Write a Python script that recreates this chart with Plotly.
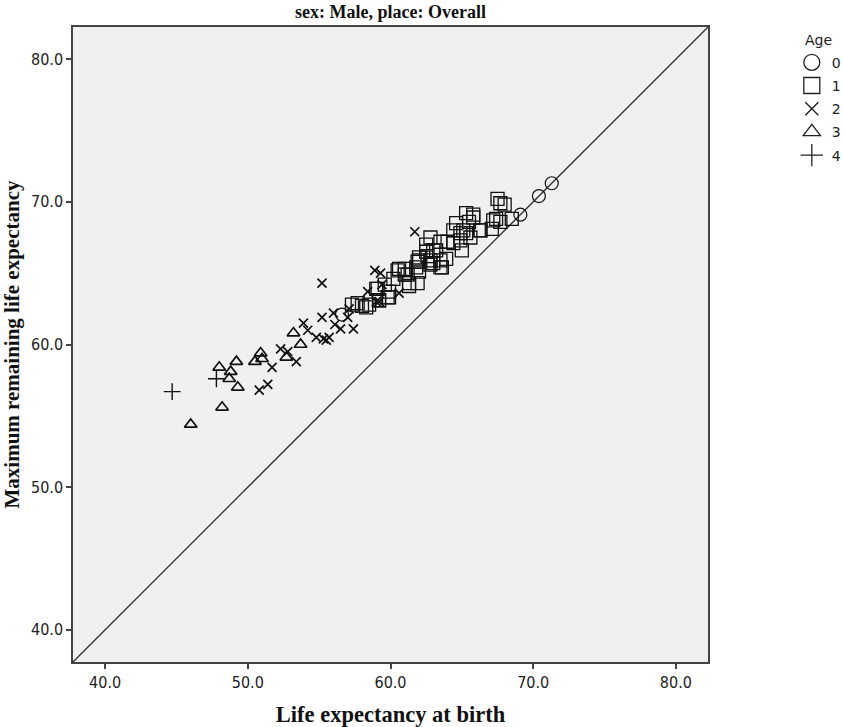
import plotly.graph_objects as go

# ---- data ----
age_labels = ["0", "1", "2", "3", "4"]

age0_x = [56.6, 69.1, 70.4, 71.3]
age0_y = [62.1, 69.1, 70.4, 71.3]

age1_x = [57.7, 58.3, 58.5, 59.1, 59.6, 59.9, 59.8, 59.2, 60.5, 61.0, 61.2, 61.3, 61.9, 60.2, 62.0,
          62.6, 62.5, 63.2, 63.5, 63.9, 64.4, 63.0, 67.5, 67.7, 68.0, 67.4, 67.2, 67.7, 68.5, 65.8,
          65.5, 64.6, 66.3, 65.6, 67.1, 64.9, 64.4, 65.0, 62.8, 63.5, 64.0, 63.0, 62.0, 62.8, 63.6,
          61.8, 65.3, 65.8, 65.1, 62.5, 62.8, 63.5, 61.9, 62.0, 60.6, 61.0, 61.3, 59.0, 59.9, 59.2,
          64.9, 65.3, 66.3, 57.3, 58.0]
age1_y = [62.9, 62.6, 62.8, 63.9, 64.2, 63.7, 63.3, 63.1, 65.2, 65.3, 64.9, 64.1, 64.3, 64.6, 65.9,
          66.2, 67.0, 66.6, 65.9, 66.0, 67.1, 65.7, 70.2, 69.9, 69.8, 68.8, 68.7, 68.6, 68.8, 69.1,
          68.6, 68.5, 68.0, 67.5, 68.1, 67.8, 68.0, 66.6, 67.5, 67.2, 67.2, 66.6, 66.1, 65.6, 65.4,
          65.4, 69.2, 68.9, 68.0, 66.5, 65.9, 65.4, 65.8, 65.1, 65.3, 64.9, 64.3, 63.9, 63.3, 63.1,
          67.3, 67.8, 68.0, 62.8, 62.7]

age2_x = [51.7, 50.8, 51.4, 52.3, 52.8, 53.4, 53.9, 54.2, 54.8, 55.2, 55.5, 55.2, 56.0, 56.1,
          56.5, 57.4, 57.0, 57.1, 58.4, 58.9, 59.3, 59.2, 55.7, 61.7, 60.6, 59.0, 55.3, 59.4]
age2_y = [58.4, 56.8, 57.2, 59.7, 59.5, 58.8, 61.5, 61.0, 60.5, 61.9, 60.3, 64.3, 62.2, 61.4,
          61.1, 61.1, 61.9, 62.5, 63.7, 65.2, 65.0, 63.0, 60.5, 67.9, 63.6, 63.0, 60.4, 64.2]

age3_x = [46.0, 48.2, 48.0, 49.2, 48.8, 48.7, 49.3, 50.5, 50.9, 51.0, 53.2, 53.7, 52.7]
age3_y = [54.4, 55.6, 58.4, 58.8, 58.1, 57.6, 57.0, 58.8, 59.4, 59.0, 60.8, 60.0, 59.1]

age4_x = [44.7, 47.8]
age4_y = [56.7, 57.6]

axis_range = [37.75, 82.25]
tick_vals = [40, 50, 60, 70, 80]
tick_text = ["40.0", "50.0", "60.0", "70.0", "80.0"]

series = [
    (age0_x, age0_y, "circle-open", 13, 1.2, 16, 1.3),
    (age1_x, age1_y, "square-open", 13, 1.3, 16, 1.3),
    (age2_x, age2_y, "x-thin-open", 9, 1.7, 13, 1.4),
    (age3_x, age3_y, "triangle-up-open", 11, 1.7, 15, 1.3),
    (age4_x, age4_y, "cross-thin-open", 12, 1.4, 16, 1.3),
]

fig = go.Figure()

# reference line y = x
fig.add_trace(go.Scatter(x=axis_range, y=axis_range, mode="lines",
                         line=dict(color="#333333", width=1.3),
                         showlegend=False, hoverinfo="skip"))

for (xs, ys, sym, sz, lw, lsz, llw), lab in zip(series, age_labels):
    fig.add_trace(go.Scatter(
        x=xs, y=ys, mode="markers", name=lab, legendgroup=lab, showlegend=False,
        marker=dict(symbol=sym, size=sz, color="#111111", line=dict(width=lw, color="#111111")),
    ))
    # legend entry (larger symbol, as in the reference legend)
    fig.add_trace(go.Scatter(
        x=[None], y=[None], mode="markers", name=lab, legendgroup=lab, showlegend=True,
        marker=dict(symbol=sym, size=lsz, color="#222222", line=dict(width=llw, color="#222222")),
    ))

tickfont = dict(family="Liberation Sans Narrow, DejaVu Sans Condensed, Liberation Sans, sans-serif",
                size=16, color="#222222")
serif = "Liberation Serif, Times New Roman, serif"

fig.update_layout(
    width=843, height=727,
    margin=dict(l=73, r=135, t=27, b=65, autoexpand=False),
    paper_bgcolor="white",
    plot_bgcolor="#f0f0f0",
    title=dict(text="<b>sex: Male, place: Overall</b>", x=(73 + 708) / 2 / 843, xanchor="center",
               y=1 - 12 / 727, yanchor="middle",
               font=dict(family=serif, size=18, color="#111111")),
    legend=dict(x=1.132, xanchor="left", y=0.969, yanchor="top",
                font=dict(family="DejaVu Sans, Liberation Sans, sans-serif", size=14, color="#222222"),
                tracegroupgap=2, itemwidth=30, bgcolor="rgba(0,0,0,0)"),
    showlegend=True,
    annotations=[dict(text="Age", xref="paper", yref="paper", x=(818 - 73) / 635, y=(662 - 40) / 635,
                      xanchor="center", yanchor="middle", showarrow=False,
                      font=dict(family="DejaVu Sans, sans-serif", size=14, color="#222222"))],
)

fig.update_xaxes(range=axis_range, tickvals=tick_vals, ticktext=tick_text,
                 ticks="outside", ticklen=5, tickwidth=1.5, tickcolor="#444444",
                 showgrid=False, zeroline=False, showline=True, linecolor="#444444", linewidth=1.5,
                 mirror=True, tickfont=tickfont, automargin=False,
                 title=dict(text="<b>Life expectancy at birth</b>",
                            font=dict(family=serif, size=22.5, color="#111111"), standoff=16))
fig.update_yaxes(range=axis_range, tickvals=tick_vals, ticktext=tick_text,
                 ticks="outside", ticklen=5, tickwidth=1.5, tickcolor="#444444",
                 showgrid=False, zeroline=False, showline=True, linecolor="#444444", linewidth=1.5,
                 mirror=True, tickfont=tickfont, automargin=False,
                 title=dict(text="<b>Maximum remaining life expectancy</b>",
                            font=dict(family=serif, size=21, color="#111111"), standoff=6))

fig.write_html("out.html", config={"displayModeBar": False},
               post_script="document.body.style.margin='0';")
